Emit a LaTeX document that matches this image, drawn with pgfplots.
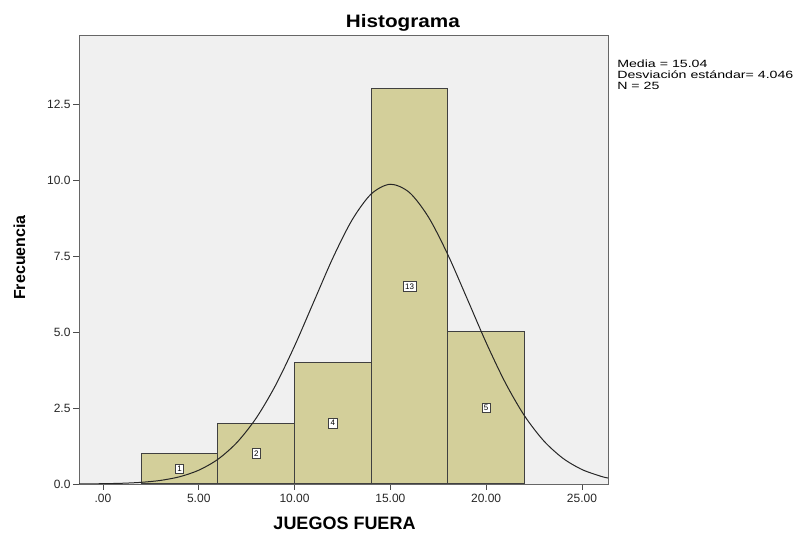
\documentclass[border=0pt]{standalone}
\usepackage{pgfplots}
\pgfplotsset{compat=1.18}
\usepackage{fontspec}
\setmainfont{Liberation Sans}
\definecolor{barfill}{HTML}{D3CF9A}
\definecolor{bgc}{HTML}{F0F0F0}
\begin{document}
\begin{tikzpicture}[x=1pt,y=1pt]
\path (0,0) rectangle (797,534);
\begin{axis}[
  at={(79pt,50pt)}, anchor=south west,
  scale only axis, width=529pt, height=449pt,
  xmin=-1.25, xmax=26.36, ymin=0, ymax=14.77,
  axis background/.style={fill=bgc},
  axis line style={draw=black!60, line width=0.9pt},
  xtick={0,5,10,15,20,25},
  xticklabels={.00,5.00,10.00,15.00,20.00,25.00},
  ytick={0,2.5,5,7.5,10,12.5},
  yticklabels={0.0,2.5,5.0,7.5,10.0,12.5},
  tick align=outside, tick pos=left,
  major tick length=6pt,
  tick style={black!70, line width=0.7pt},
  ticklabel style={font=\fontsize{12}{14}\selectfont, text=black!85},
  xticklabel style={yshift=-1pt},
  yticklabel style={xshift=1pt},
  clip=true,
]
\addplot[ybar interval, fill=barfill, draw=black!75, line width=1pt]
  coordinates {(2,1) (6,2) (10,4) (14,13) (18,5) (22,5)};
\addplot[smooth, black!85, line width=1pt] coordinates {
(-1.25,0.0030) (-1,0.0038) (0,0.00985) (1,0.0239) (2,0.0547) (3,0.1177) (4,0.238)
(5,0.454) (6,0.813) (7,1.370) (8,2.170) (9,3.236) (10,4.539) (11,5.990)
(12,7.436) (13,8.683) (14,9.540) (15,9.860) (16,9.586) (17,8.769) (18,7.545)
(19,6.107) (20,4.651) (21,3.332) (22,2.245) (23,1.424) (24,0.849) (25,0.476)
(26,0.2515) (26.36,0.197)};
\addplot[only marks, mark=none, nodes near coords, point meta=explicit symbolic,
  nodes near coords align={center},
  every node near coord/.style={draw=black!75, fill=white, inner sep=2pt,
    font=\fontsize{8}{9}\selectfont, line width=0.8pt, anchor=center}]
  table[meta=lab] {
x y lab
4 0.5 1
8 1 2
12 2 4
16 6.5 13
20 2.5 5
};
\end{axis}
\node[anchor=base, font=\fontsize{18}{20}\selectfont, xscale=1.15, inner sep=0pt] at (403,506) {\textbf{Histograma}};
\node[anchor=base, font=\fontsize{18}{20}\selectfont, inner sep=0pt] at (344.5,4) {\textbf{JUEGOS FUERA}};
\node[rotate=90, anchor=base, font=\fontsize{16}{18}\selectfont, inner sep=0pt] at (25,276.5) {\textbf{Frecuencia}};
\node[anchor=north west, align=left, font=\fontsize{10.5}{11}\selectfont, xscale=1.35, inner sep=0pt] at (617,474) {Media = 15.04\\Desviación estándar= 4.046\\N = 25};
\end{tikzpicture}
\end{document}
